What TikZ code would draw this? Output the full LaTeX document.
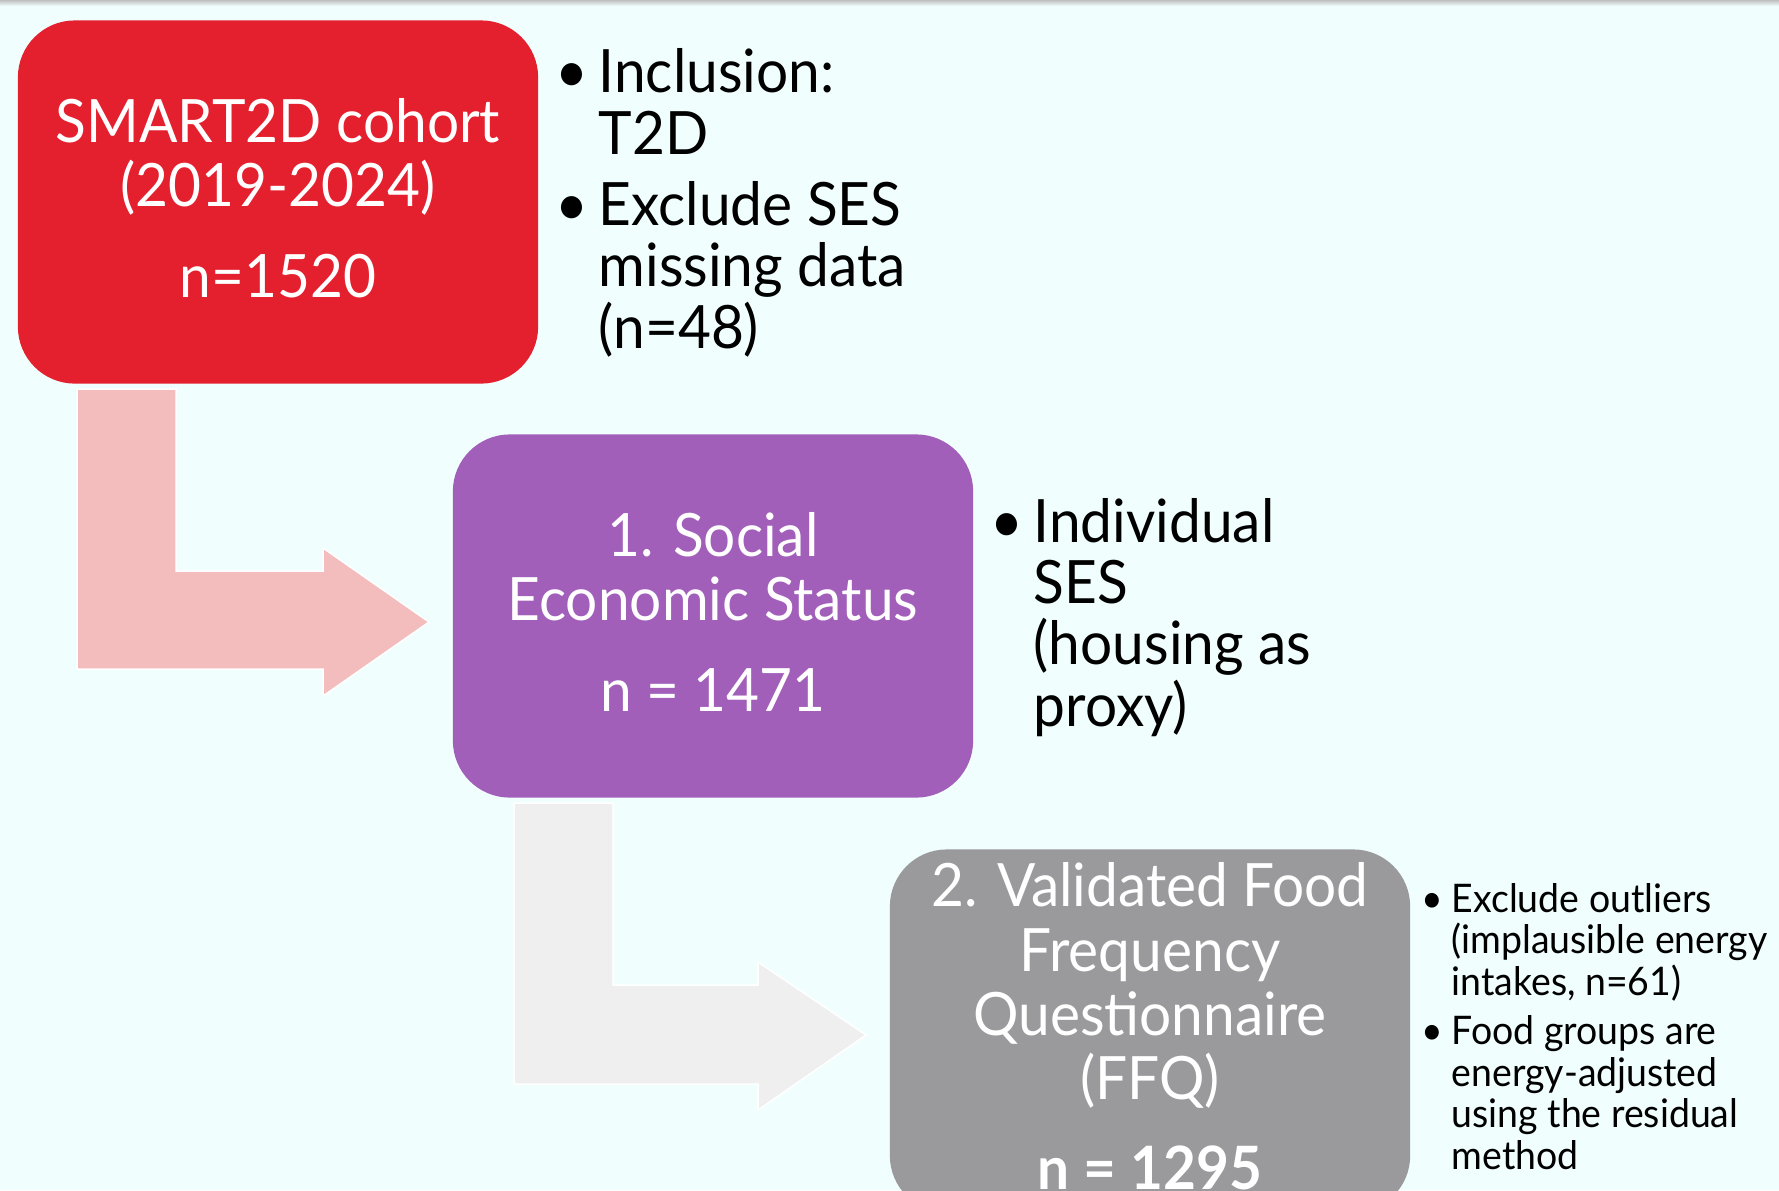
\documentclass[tikz,border=0pt]{standalone}
\usepackage{fontspec}
\setmainfont[FakeStretch=0.95]{Lato}
\definecolor{bgcyan}{RGB}{240,254,254}
\definecolor{cohortred}{RGB}{229,32,46}
\definecolor{sespurple}{RGB}{162,95,186}
\definecolor{ffqgray}{RGB}{154,154,156}
\definecolor{arrowpink}{RGB}{244,189,189}
\definecolor{arrowgray}{RGB}{239,239,239}
\begin{document}
\begin{tikzpicture}[x=0.01cm,y=-0.01cm,
  panel/.style={rounded corners=0.57cm, inner sep=0pt, minimum width=5.2cm, minimum height=3.63cm},
  paneltext/.style={anchor=base, align=center, text=white, inner sep=0pt,
    font=\fontsize{17}{18.2}\selectfont},
  bulletbig/.style={anchor=base west, align=left, inner sep=0pt,
    font=\fontsize{17}{17.4}\selectfont},
  bulletsmall/.style={anchor=base west, align=left, inner sep=0pt,
    font=\fontsize{11.2}{11.8}\selectfont},
  blockarrow/.style={draw=white, line width=0.015cm, line join=miter}]
\useasboundingbox (0,0) rectangle (1779,1190);
\clip (0,0) rectangle (1779,1190);
\fill[bgcyan] (0,0) rectangle (1779,1190);
\shade[top color=black!25, bottom color=bgcyan] (0,0) rectangle (1779,6);

% bent block arrows between the stages
\path[blockarrow, fill=arrowpink] (77,389) -- (176,389) -- (176,571) -- (323,571) -- (323,548)
  -- (429,622) -- (323,696) -- (323,669) -- (77,669) -- cycle;
\path[blockarrow, fill=arrowgray] (514,803) -- (613,803) -- (613,985) -- (758,985) -- (758,962)
  -- (866,1035) -- (758,1110) -- (758,1084) -- (514,1084) -- cycle;

% stage panels
\node[panel, fill=cohortred] (cohort) at (278,202) {};
\node[panel, fill=sespurple] (ses) at (713,616) {};
\node[panel, fill=ffqgray] (ffq) at (1150,1031) {};

\node[paneltext] (cohorttxt) at (278,297) {SMART2D cohort\\(2019-2024)\\[7.4pt]n=1520};
\node[paneltext] (sestxt) at (713,711) {1. Social\\Economic Status\\[7.4pt]n = 1471};
\node[paneltext] (ffqtxt) at (1150,1189) {2. Validated Food\\Frequency\\Questionnaire\\(FFQ)\\[7.4pt]\textbf{n = 1295}};

% notes beside each panel
\node[bulletbig] (inc) at (598,154) {\llap{\textbullet\hspace{3pt}}Inclusion:\\T2D};
\node[bulletbig] (exc) at (598,348) {\llap{\textbullet\hspace{3pt}}Exclude SES\\missing data\\(n=48)};
\node[bulletbig] (ind) at (1033,726) {\llap{\textbullet\hspace{3pt}}Individual\\SES\\(housing as\\proxy)};
\node[bulletsmall] (outl) at (1451,995) {\llap{\textbullet\hspace{2.3pt}}Exclude outliers\\(implausible energy\\intakes, n=61)};
\node[bulletsmall] (adj) at (1451,1169) {\llap{\textbullet\hspace{2.3pt}}Food groups are\\energy-adjusted\\using the residual\\method};
\end{tikzpicture}
\end{document}
